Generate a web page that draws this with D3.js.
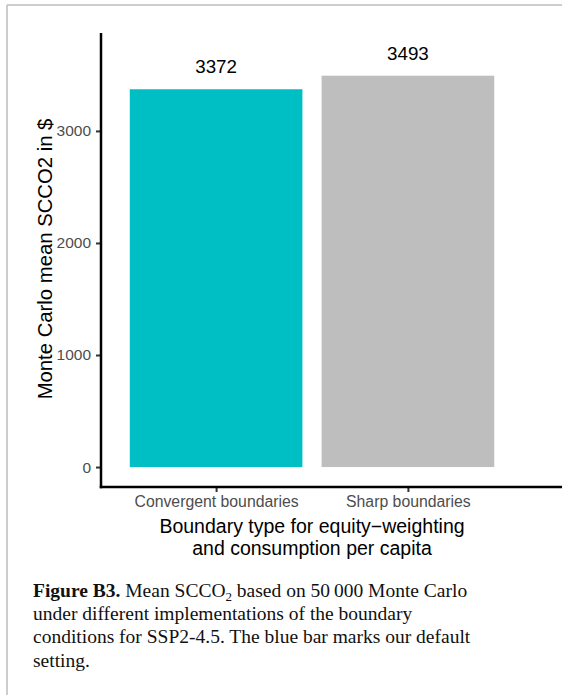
<!DOCTYPE html>
<html><head><meta charset="utf-8">
<script src="https://cdn.jsdelivr.net/npm/d3@7"></script>
<style>body{margin:0;background:#fff}svg{display:block}</style>
</head><body>
<svg id="c" width="562" height="695"></svg>
<script>
const categories = ["Convergent boundaries", "Sharp boundaries"];
const values = [3372, 3493];
const barColors = ["#00BFC4", "#BEBEBE"];
const yTicks = [0, 1000, 2000, 3000];
const yTitle = "Monte Carlo mean SCCO2 in $";
const xTitleLines = ["Boundary type for equity\u2212weighting", "and consumption per capita"];

(function(){
const svg = d3.select("#c");
const sans = "Liberation Sans, Arial, sans-serif";
// frame
svg.append("line").attr("x1",7).attr("x2",562).attr("y1",5).attr("y2",5).attr("stroke","#bdbdbd").attr("stroke-width",1.5);
svg.append("line").attr("x1",7).attr("x2",7).attr("y1",5).attr("y2",695).attr("stroke","#bdbdbd").attr("stroke-width",1.5);

const pL = 101, pR = 523, pT = 33, pB = 487;
const y = d3.scaleLinear().domain([-178, 3874]).range([pB, pT]);
// ggplot-like discrete positions 1,2 with limits [0.4,2.6]
const xc = d3.scaleLinear().domain([0.4, 2.6]).range([pL, pR]);
const bw = xc(0.9) - xc(0);

const g = svg.append("g");
g.selectAll("rect.bar").data(values).join("rect")
  .attr("x",(d,i)=>xc(i+1)-bw/2).attr("width",bw)
  .attr("y",d=>y(d)).attr("height",d=>y(0)-y(d))
  .attr("fill",(d,i)=>barColors[i]);

g.selectAll("text.lab").data(values).join("text")
  .attr("x",(d,i)=>xc(i+1)).attr("y",d=>y(d)-16)
  .attr("text-anchor","middle").attr("font-family",sans)
  .attr("font-size",18.8).attr("fill","#000").text(d=>d);

// y axis
const ya = svg.append("g").attr("transform",`translate(${pL},0)`)
  .call(d3.axisLeft(y).tickValues(yTicks).tickSize(5).tickPadding(5).tickFormat(d3.format("d")));
ya.select(".domain").remove();
ya.selectAll(".tick line").attr("stroke","#333").attr("stroke-width",2);
ya.selectAll(".tick text").attr("font-family",sans).attr("font-size",15.5).attr("fill","#4d4d4d");
svg.append("line").attr("x1",pL).attr("x2",pL).attr("y1",pT).attr("y2",pB+1.25).attr("stroke","#000").attr("stroke-width",2.5);

// x axis
const xa = svg.append("g").attr("transform",`translate(0,${pB})`)
  .call(d3.axisBottom(xc).tickValues([1,2]).tickSize(5).tickPadding(4).tickFormat((d)=>categories[d-1]));
xa.select(".domain").remove();
xa.selectAll(".tick line").attr("stroke","#333").attr("stroke-width",2);
xa.selectAll(".tick text").attr("font-family",sans).attr("font-size",15.8).attr("fill","#4d4d4d");
svg.append("line").attr("x1",pL-1.25).attr("x2",562).attr("y1",pB).attr("y2",pB).attr("stroke","#000").attr("stroke-width",2.5);

// titles
svg.append("text").attr("transform",`translate(52,${(pT+pB)/2 - 1}) rotate(-90)`)
  .attr("text-anchor","middle").attr("font-family",sans).attr("font-size",20.3).text(yTitle);
svg.append("text").attr("text-anchor","middle").attr("font-family",sans).attr("font-size",19.5)
  .selectAll("tspan").data(xTitleLines).join("tspan").attr("x",(pL+pR)/2).attr("y",(d,i)=>533+i*22).text(d=>d);

// caption
const cap = svg.append("text").attr("font-family","Liberation Serif, Times New Roman, serif").attr("font-size",19.5).attr("fill","#111");
const l1 = cap.append("tspan").attr("x",33).attr("y",597);
l1.append("tspan").attr("font-weight","bold").text("Figure B3.");
l1.append("tspan").text(" Mean SCCO");
l1.append("tspan").attr("font-size",13).attr("dy",4).text("2");
l1.append("tspan").attr("dy",-4).text(" based on 50\u2009000 Monte Carlo");
cap.append("tspan").attr("x",33).attr("y",620).text("under different implementations of the boundary");
cap.append("tspan").attr("x",33).attr("y",643).text("conditions for SSP2-4.5. The blue bar marks our default");
cap.append("tspan").attr("x",33).attr("y",667).text("setting.");
})();
</script>
</body></html>
